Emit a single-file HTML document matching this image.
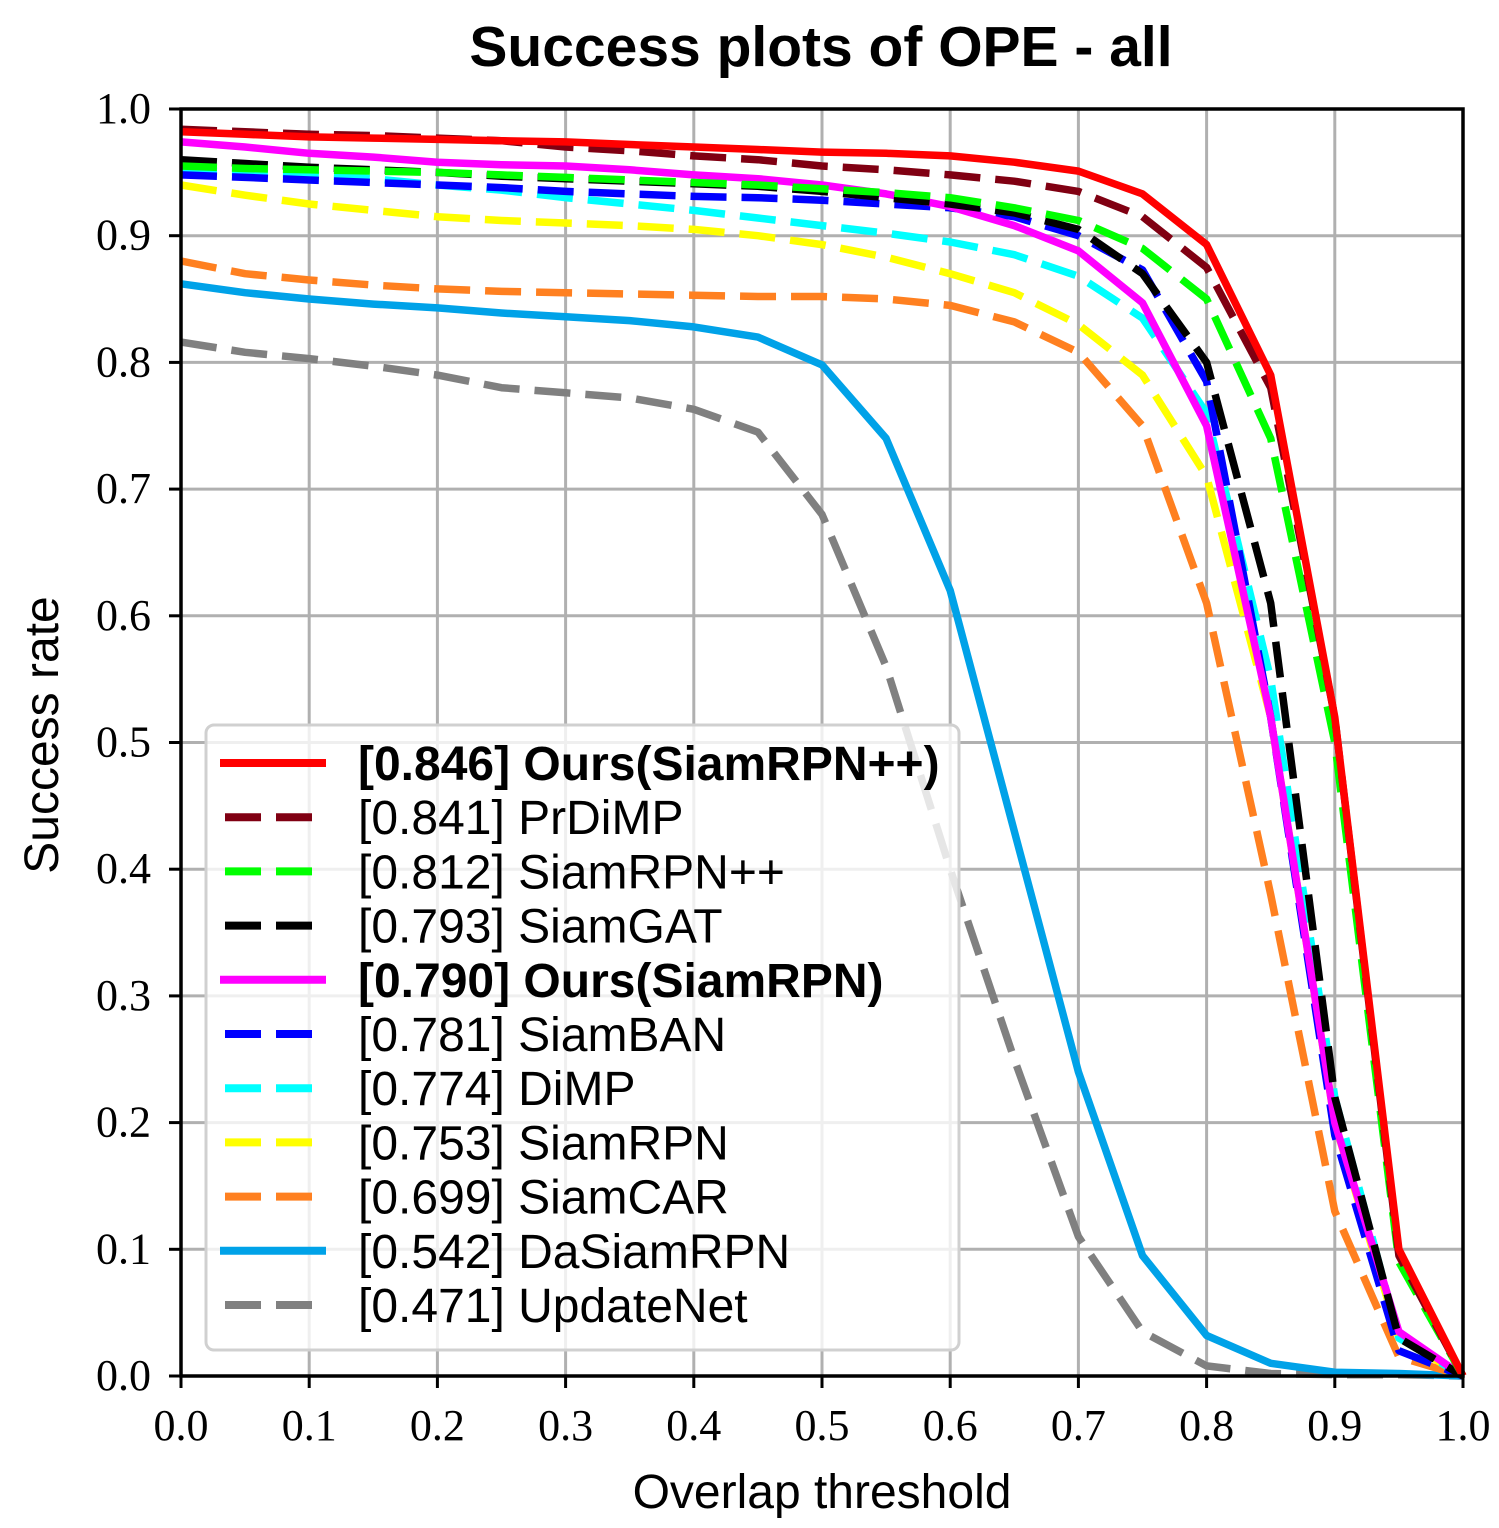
<!DOCTYPE html>
<html><head><meta charset="utf-8"><style>
html,body{margin:0;padding:0;background:#fff}
svg{display:block}
.tick{font-family:"Liberation Serif",serif;font-size:44px;fill:#000}
.lab{font-family:"Liberation Sans",sans-serif;font-size:48px;fill:#000}
.leg{font-family:"Liberation Sans",sans-serif;font-size:48px;fill:#000}
</style></head><body>
<svg id="chart" width="1499" height="1528" xmlns="http://www.w3.org/2000/svg">
<text x="821" y="66" text-anchor="middle" style="font-family:'Liberation Sans',sans-serif;font-size:57px;font-weight:bold">Success plots of OPE - all</text>
<g id="grid"></g><g id="series"></g><g id="axes"></g><g id="legend"></g>
<text x="822" y="1508" text-anchor="middle" class="lab">Overlap threshold</text>
<text transform="translate(58,735) rotate(-90)" text-anchor="middle" class="lab">Success rate</text>
</svg>
<script>
const thresholds=[0,0.05,0.1,0.15,0.2,0.25,0.3,0.35,0.4,0.45,0.5,0.55,0.6,0.65,0.7,0.75,0.8,0.85,0.9,0.95,1.0];
const names=["[0.846] Ours(SiamRPN++)","[0.841] PrDiMP","[0.812] SiamRPN++","[0.793] SiamGAT","[0.790] Ours(SiamRPN)","[0.781] SiamBAN","[0.774] DiMP","[0.753] SiamRPN","[0.699] SiamCAR","[0.542] DaSiamRPN","[0.471] UpdateNet"];
const oursPP=[0.982,0.980,0.978,0.977,0.976,0.975,0.974,0.972,0.970,0.968,0.966,0.965,0.963,0.958,0.951,0.933,0.893,0.790,0.52,0.10,0.0];
const prdimp=[0.984,0.982,0.980,0.979,0.977,0.975,0.970,0.967,0.963,0.960,0.955,0.952,0.948,0.943,0.935,0.915,0.875,0.78,0.52,0.095,0.0];
const siamrpnpp=[0.955,0.953,0.952,0.951,0.950,0.948,0.946,0.944,0.942,0.940,0.937,0.934,0.930,0.922,0.912,0.89,0.85,0.74,0.50,0.09,0.0];
const siamgat=[0.960,0.957,0.954,0.952,0.950,0.947,0.945,0.943,0.941,0.939,0.935,0.930,0.925,0.918,0.905,0.87,0.80,0.61,0.22,0.03,0.0];
const oursP=[0.974,0.970,0.965,0.962,0.958,0.956,0.955,0.952,0.948,0.945,0.940,0.933,0.923,0.908,0.888,0.847,0.75,0.52,0.20,0.035,0.0];
const siamban=[0.948,0.946,0.944,0.942,0.940,0.938,0.935,0.933,0.931,0.930,0.928,0.925,0.922,0.915,0.900,0.873,0.785,0.52,0.19,0.02,0.0];
const dimp=[0.952,0.950,0.948,0.945,0.940,0.936,0.930,0.925,0.920,0.914,0.908,0.902,0.895,0.885,0.868,0.835,0.76,0.55,0.22,0.03,0.0];
const siamrpn=[0.940,0.932,0.925,0.920,0.915,0.912,0.910,0.908,0.905,0.900,0.893,0.883,0.870,0.855,0.830,0.79,0.71,0.52,0.20,0.03,0.0];
const siamcar=[0.880,0.870,0.865,0.861,0.858,0.856,0.855,0.854,0.853,0.852,0.852,0.850,0.845,0.832,0.808,0.75,0.61,0.38,0.13,0.015,0.0];
const dasiam=[0.862,0.855,0.850,0.846,0.843,0.839,0.836,0.833,0.828,0.820,0.798,0.740,0.620,0.430,0.240,0.095,0.032,0.010,0.003,0.002,0.0];
const updatenet=[0.816,0.808,0.803,0.797,0.790,0.780,0.776,0.772,0.763,0.745,0.680,0.560,0.400,0.250,0.110,0.035,0.008,0.002,0.001,0.001,0.0];
const seriesData=[oursPP,prdimp,siamrpnpp,siamgat,oursP,siamban,dimp,siamrpn,siamcar,dasiam,updatenet];
const colors=["#ff0000","#800012","#00ff00","#000000","#ff00ff","#0000ff","#00ffff","#ffff00","#ff8020","#00a2e8","#808080"];
const dashed=[false,true,true,true,false,true,true,true,true,false,true];
const bold=[true,false,false,false,true,false,false,false,false,false,false];
const ticks=[0,0.1,0.2,0.3,0.4,0.5,0.6,0.7,0.8,0.9,1.0];

const NS="http://www.w3.org/2000/svg";
const X0=181,X1=1463,Y0=1376,Y1=109;
const sx=v=>X0+(X1-X0)*v, sy=v=>Y0-(Y0-Y1)*v;
function mk(tag,attrs,parent){const e=document.createElementNS(NS,tag);for(const k in attrs)e.setAttribute(k,attrs[k]);parent.appendChild(e);return e;}
const grid=document.getElementById('grid'),axes=document.getElementById('axes'),ser=document.getElementById('series'),leg=document.getElementById('legend');
ticks.forEach(t=>{
  let g1=mk('line',{x1:sx(t),x2:sx(t),y1:Y1,y2:Y0,stroke:'#b0b0b0','stroke-width':3},grid);
  
  
  let g2=mk('line',{x1:X0,x2:X1,y1:sy(t),y2:sy(t),stroke:'#b0b0b0','stroke-width':3},grid);
  
  
  let a=mk('line',{x1:sx(t),x2:sx(t),y1:Y0,y2:Y0+12,stroke:'#000','stroke-width':3},axes);
  
  
  let b=mk('line',{x1:X0-12,x2:X0,y1:sy(t),y2:sy(t),stroke:'#000','stroke-width':3},axes);
  
  
  let tx=mk('text',{x:sx(t),y:Y0+64,'text-anchor':'middle',class:'tick'},axes);tx.textContent=t.toFixed(1);
  
  
  let ty=mk('text',{x:X0-30,y:sy(t)+14,'text-anchor':'end',class:'tick'},axes);ty.textContent=t.toFixed(1);
  
  
});
let fr=mk('rect',{x:X0,y:Y1,width:X1-X0,height:Y0-Y1,fill:'none',stroke:'#000','stroke-width':3.5},axes);


for(let i=seriesData.length-1;i>=0;i--){
  const d=seriesData[i].map((v,j)=>(j?'L':'M')+sx(thresholds[j]).toFixed(1)+','+sy(v).toFixed(1)).join('');
  const p=mk('path',{d:d,fill:'none',stroke:colors[i],'stroke-width':7.5,'stroke-linejoin':'round'},ser);
  if(dashed[i])p.setAttribute('stroke-dasharray','36 15');
  
  
}
let box=mk('rect',{x:206,y:725,width:753,height:625,rx:8,fill:'#fff','fill-opacity':0.8,stroke:'#d0d0d0','stroke-width':3},leg);


names.forEach((n,i)=>{
  const y=763+i*54.2;
  const l=mk('line',{x1:dashed[i]?225:220,x2:dashed[i]?312:326,y1:y,y2:y,stroke:colors[i],'stroke-width':8},leg);
  if(dashed[i])l.setAttribute('stroke-dasharray','36 15');
  
  
  const t=mk('text',{x:358,y:y+17,class:'leg'},leg);
  if(bold[i])t.setAttribute('font-weight','bold');
  t.textContent=n;
  
  
});
</script>
</body></html>
